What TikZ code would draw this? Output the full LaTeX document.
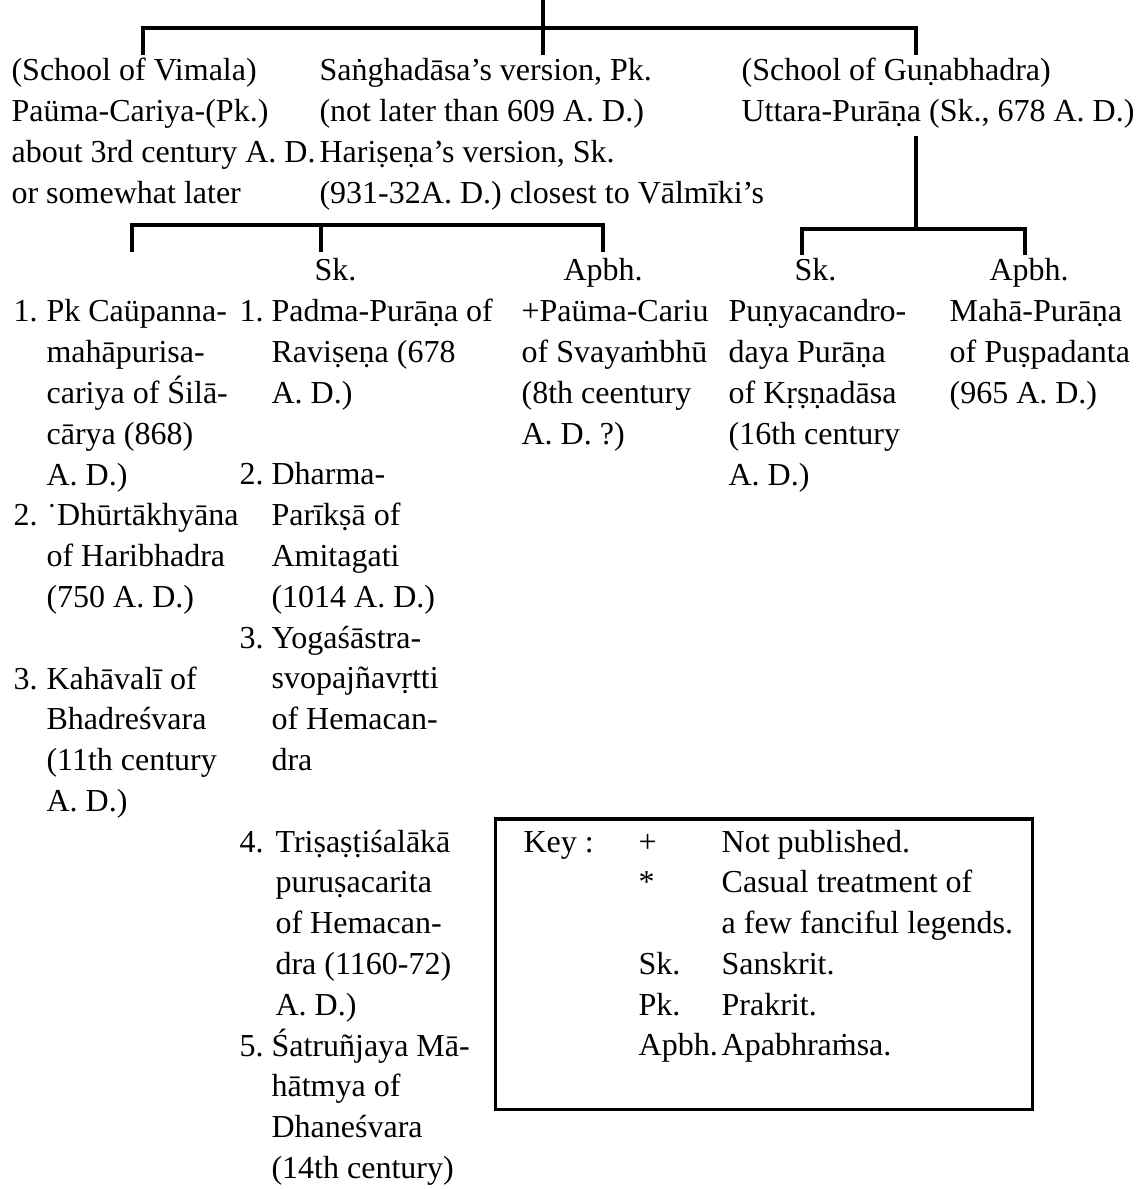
\documentclass[tikz,border=0pt]{standalone}
\usepackage{fontspec}
\setmainfont{Liberation Serif}
\newcommand\treefont{\fontsize{9.1}{11.6}\selectfont}
\newcommand\worklines[1]{\begin{tabular}[t]{@{}l@{}}#1\end{tabular}}

\begin{document}
\begin{tikzpicture}[x=0.01cm, y=-0.01cm, line width=0.9pt,
        work node/.style={anchor=base west, inner sep=0pt, font=\treefont},
        key box/.style={draw, minimum width=5.36cm, minimum height=2.9cm, inner sep=0pt}]

    \useasboundingbox (0,0) rectangle (1145,1189);

    % Upper row
    \node[work node] (vimala) at (10,81) {\worklines{(School of Vimala)\\Paüma-Cariya-(Pk.)\\about 3rd century A. D.\\or somewhat later}};
    \node[work node] (sangha) at (318,81) {\worklines{Saṅghadāsa's version, Pk.\\(not later than 609 A. D.)\\Hariṣeṇa's version, Sk.\\(931-32A. D.) closest to Vālmīki's}};
    \node[work node] (guna) at (740,81) {\worklines{(School of Guṇabhadra)\\Uttara-Purāṇa (Sk., 678 A. D.)}};

    % Languages
    \node[work node] (skA) at (313,281) {Sk.};
    \node[work node] (apA) at (562,281) {Apbh.};
    \node[work node] (skB) at (793,281) {Sk.};
    \node[work node] (apB) at (988,281) {Apbh.};

    % Prakrit works
    \node[work node] (n11) at (12,322) {1.};
    \node[work node] (pk1) at (45,322) {\worklines{Pk Caüpanna-\\mahāpurisa-\\cariya of Śilā-\\cārya (868)\\A. D.)}};
    \node[work node] (n12) at (12,526) {2.};
    \node[work node] (pk2) at (45,526) {\worklines{˙Dhūrtākhyāna\\of Haribhadra\\(750 A. D.)}};
    \node[work node] (n13) at (12,689) {3.};
    \node[work node] (pk3) at (45,689) {\worklines{Kahāvalī of\\Bhadreśvara\\(11th century\\A. D.)}};

    % Sanskrit works
    \node[work node] (n21) at (238,322) {1.};
    \node[work node] (sk1) at (270,322) {\worklines{Padma-Purāṇa of\\Raviṣeṇa (678\\A. D.)}};
    \node[work node] (n22) at (238,485) {2.};
    \node[work node] (sk2) at (270,485) {\worklines{Dharma-\\Parīkṣā of\\Amitagati\\(1014 A. D.)}};
    \node[work node] (n23) at (238,648) {3.};
    \node[work node] (sk3) at (270,648) {\worklines{Yogaśāstra-\\svopajñavṛtti\\of Hemacan-\\dra}};
    \node[work node] (n24) at (238,852) {4.};
    \node[work node] (sk4) at (274,852) {\worklines{Triṣaṣṭiśalākā\\puruṣacarita\\of Hemacan-\\dra (1160-72)\\A. D.)}};
    \node[work node] (n25) at (238,1056) {5.};
    \node[work node] (sk5) at (270,1056) {\worklines{Śatruñjaya Mā-\\hātmya of\\Dhaneśvara\\(14th century)}};

    % Apabhramsa and Gunabhadra works
    \node[work node] (ap1) at (520,322) {\worklines{+Paüma-Cariu\\of Svayaṁbhū\\(8th ceentury\\A. D. ?)}};
    \node[work node] (sk6) at (727,322) {\worklines{Puṇyacandro-\\daya Purāṇa\\of Kṛṣṇadāsa\\(16th century\\A. D.)}};
    \node[work node] (ap2) at (948,322) {\worklines{Mahā-Purāṇa\\of Puṣpadanta\\(965 A. D.)}};

    % Key
    \node[key box] (key) at (764,964) {};
    \node[work node] (keytab) at (522,852) {\begin{tabular}[t]{@{}p{1.15cm}@{}p{0.83cm}@{}l@{}}
        Key :&+&Not published.\\
        &*&Casual treatment of\\
        &&a few fanciful legends.\\
        &Sk.&Sanskrit.\\
        &Pk.&Prakrit.\\
        &Apbh.&Apabhraṁsa.
        \end{tabular}};

    % Top branches
    \coordinate (root) at (543,0);
    \coordinate (topbar) at (543,28);
    \coordinate (tA) at (143,55);
    \coordinate (tB) at (543,55);
    \coordinate (tC) at (916,55);
    \draw (tA) |- (topbar) -| (tC);
    \draw (root) -- (tB);

    % Vimala and Sanghadasa branches
    \coordinate (midbar) at (321,225);
    \coordinate (mA) at (132,252);
    \coordinate (mB) at (321,252);
    \coordinate (mC) at (603,252);
    \draw (mA) |- (midbar) -| (mC);
    \draw (midbar) -- (mB);

    % Gunabhadra branches
    \coordinate (rightbar) at (916,229);
    \coordinate (rA) at (802,255);
    \coordinate (rB) at (1025,255);
    \draw (guna.south -| rightbar) -- (rightbar);
    \draw (rA) |- (rightbar) -| (rB);
\end{tikzpicture}
\end{document}
